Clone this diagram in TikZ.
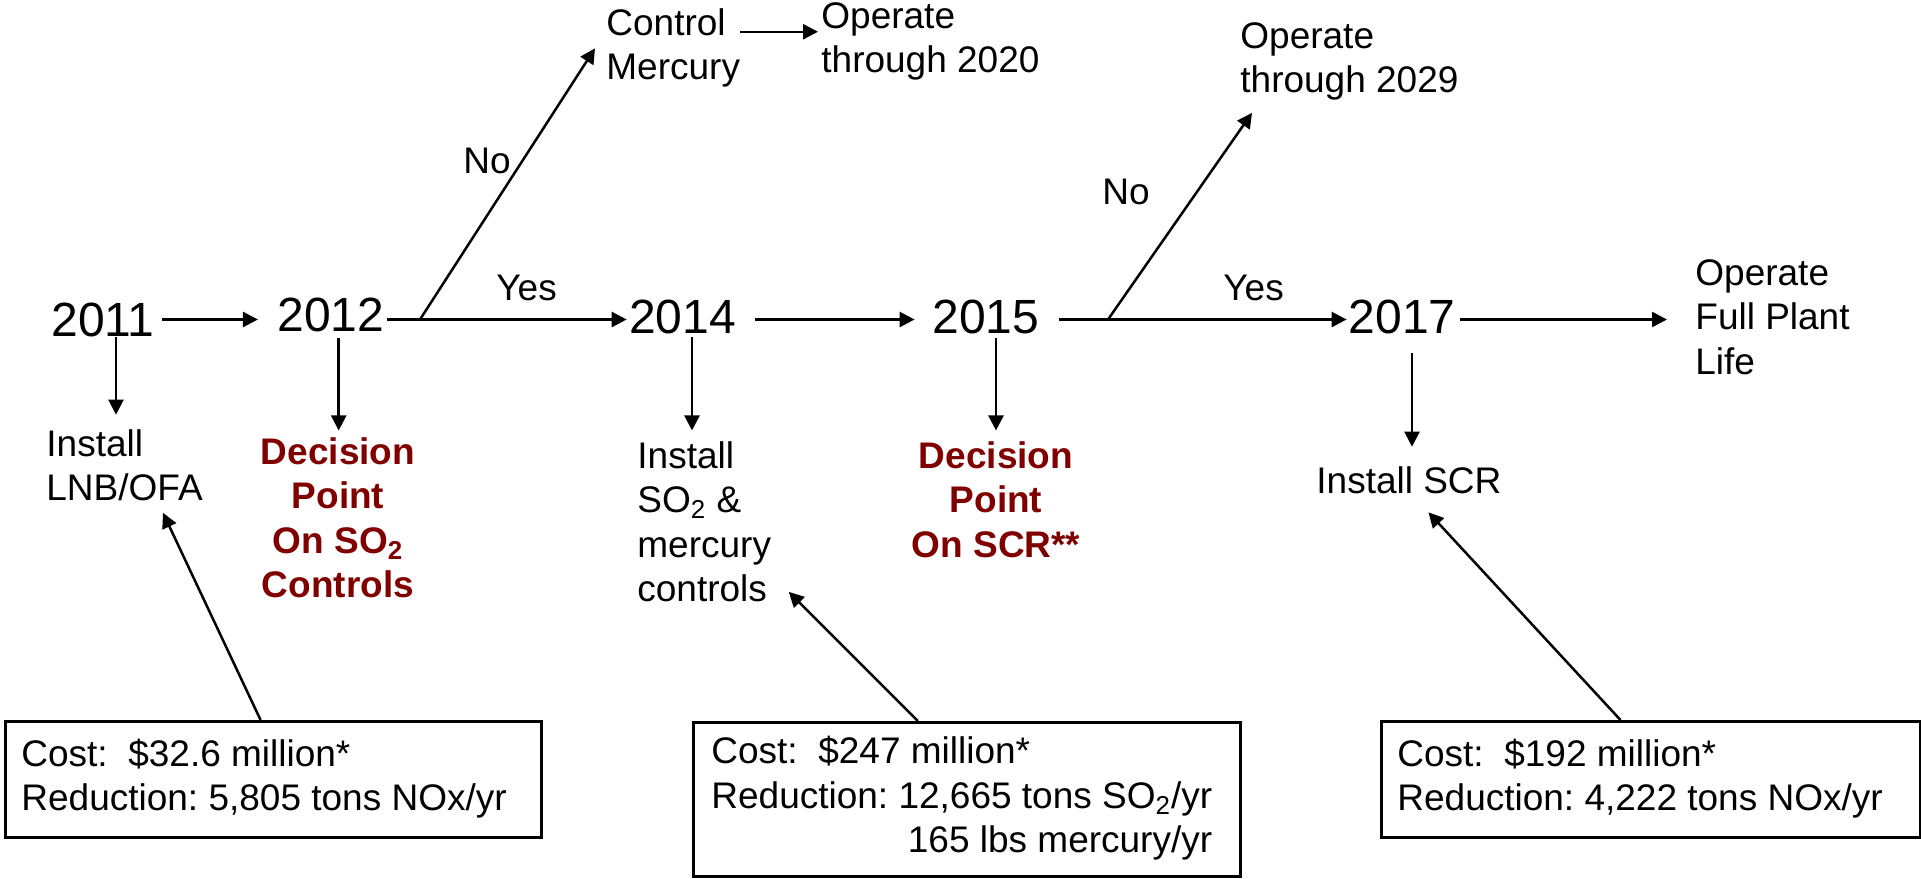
\documentclass[tikz,border=0pt]{standalone}
\usepackage{fontspec}
\setmainfont{Liberation Sans}
\usetikzlibrary{arrows.meta}
\definecolor{dred}{RGB}{128,0,0}
\newcommand\bodyfs{\fontsize{18.5}{22.25}\selectfont}
\newcommand\yearfs{\fontsize{24}{28}\selectfont}
\frenchspacing
\begin{document}
\frenchspacing
\begin{tikzpicture}[x=0.5pt,y=-0.5pt,
  arr/.style={-{Triangle[length=7.5pt,width=7.5pt]}, line width=1.25pt},
  year/.style={font=\yearfs, inner sep=0pt, anchor=base},
  txt/.style={font=\bodyfs, inner sep=0pt, anchor=base west},
  dec/.style={font=\bodyfs\bfseries, text=dred, inner sep=0pt, anchor=base},
  costbox/.style={draw, line width=1.4pt, font=\bodyfs, inner sep=0pt, anchor=north west, minimum height=58pt},
]
\useasboundingbox (0,0) rectangle (1921,878);
\fill[white] (0,0) rectangle (1921,878);

% years
\node[year] (y2011) at (103,336) {2011};
\node[year] (y2012) at (330.7,331) {2012};
\node[year] (y2014) at (682.5,333) {2014};
\node[year] (y2015) at (986,333) {2015};
\node[year] (y2017) at (1402,333) {2017};

% texts
\node[txt] (lnb) at (46,456) {\begin{tabular}[t]{@{}l@{}}Install\\LNB/OFA\end{tabular}};
\node[dec] (dp1) at (338,464) {\begin{tabular}[t]{@{}c@{}}Decision\\Point\\On SO\textsubscript{2}\\Controls\end{tabular}};
\node[txt] (cm) at (606,35) {\begin{tabular}[t]{@{}l@{}}Control\\Mercury\end{tabular}};
\node[txt] (op20) at (821,28) {\begin{tabular}[t]{@{}l@{}}Operate\\through 2020\end{tabular}};
\node[txt] (op29) at (1240,48) {\begin{tabular}[t]{@{}l@{}}Operate\\through 2029\end{tabular}};
\node[txt] (no1) at (463,173) {No};
\node[txt] (yes1) at (496,300) {Yes};
\node[txt] (no2) at (1102,204) {No};
\node[txt] (yes2) at (1223,300) {Yes};
\node[txt] (inst2) at (637,468) {\begin{tabular}[t]{@{}l@{}}Install\\SO\textsubscript{2} \&\\mercury\\controls\end{tabular}};
\node[dec] (dp2) at (996,468) {\begin{tabular}[t]{@{}c@{}}Decision\\Point\\On SCR**\end{tabular}};
\node[txt] (scr) at (1316,493) {\begin{tabular}[t]{@{}l@{}}Install SCR\end{tabular}};
\node[txt] (opfull) at (1695,285) {\begin{tabular}[t]{@{}l@{}}Operate\\Full Plant\\Life\end{tabular}};

% cost boxes
\node[costbox] (box1) at (4,720) {\begin{tabular}{@{\hspace{8pt}}l@{\hspace{17.5pt}}}Cost:\ \ \$32.6 million*\\Reduction: 5,805 tons NOx/yr\end{tabular}};
\node[costbox, minimum height=77pt] (box2) at (692,721) {\begin{tabular}{@{\hspace{9pt}}l@{\hspace{14pt}}}Cost:\ \ \$247 million*\\Reduction: 12,665 tons SO\textsubscript{2}/yr\\\hfill 165 lbs mercury/yr\end{tabular}};
\node[costbox] (box3) at (1380,720) {\begin{tabular}{@{\hspace{8pt}}l@{\hspace{19pt}}}Cost:\ \ \$192 million*\\Reduction: 4,222 tons NOx/yr\end{tabular}};

% helper coordinates on the main line
\coordinate (ml) at (0,319.5);
\coordinate (b1) at (420,319.5);
\coordinate (b2) at (1108,319.5);

% horizontal connectors
\draw[arr, shorten <=3.5pt, shorten >=9.5pt] (y2011.east |- ml) -- (y2012.west |- ml);
\draw[arr, shorten <=1.5pt, shorten >=1pt] (y2012.east |- ml) -- (y2014.west |- ml);
\draw[arr] (b1) -- ([xshift=-5.5pt]cm.west);
\draw[arr, shorten >=1.5pt] ([yshift=8.3pt]cm.east) -- ([yshift=8.3pt]cm.east -| op20.west);
\draw[arr, shorten <=9.5pt, shorten >=8.8pt] (y2014.east |- ml) -- (y2015.west |- ml);
\draw[arr, shorten <=9.8pt, shorten >=0.8pt] (y2015.east |- ml) -- (y2017.west |- ml);
\draw[arr] (b2) -- ([xshift=6pt,yshift=-3.3pt]op29.south west);
\draw[arr, shorten <=2.3pt, shorten >=14pt] (y2017.east |- ml) -- (opfull.west |- ml);

% vertical connectors
\draw[arr, shorten >=4.9pt] ([xshift=6.5pt]y2011.south) -- ([xshift=6.5pt]y2011.south |- lnb.north);
\draw[arr, shorten <=3pt, shorten >=1pt] ([xshift=4pt]y2012.south) -- ([xshift=4pt]y2012.south |- dp1.north);
\draw[arr, shorten <=1.5pt, shorten >=3pt] ([xshift=4.75pt]y2014.south) -- ([xshift=4.75pt]y2014.south |- inst2.north);
\draw[arr, shorten <=2pt, shorten >=3pt] ([xshift=5pt]y2015.south) -- ([xshift=5pt]y2015.south |- dp2.north);
\draw[arr, shorten <=9.5pt, shorten >=7.4pt] ([xshift=5pt]y2017.south) -- ([xshift=5pt]y2017.south |- scr.north);

% box connectors
\draw[arr] ([xshift=-6.5pt]box1.north) -- ([xshift=58.5pt,yshift=0.7pt]lnb.south west);
\draw[arr] ([xshift=-24.5pt]box2.north) -- ([xshift=8.7pt,yshift=11.7pt]inst2.south east);
\draw[arr] ([xshift=-15.3pt]box3.north) -- ([xshift=9.75pt,yshift=-2.8pt]scr.south);
\end{tikzpicture}
\end{document}
